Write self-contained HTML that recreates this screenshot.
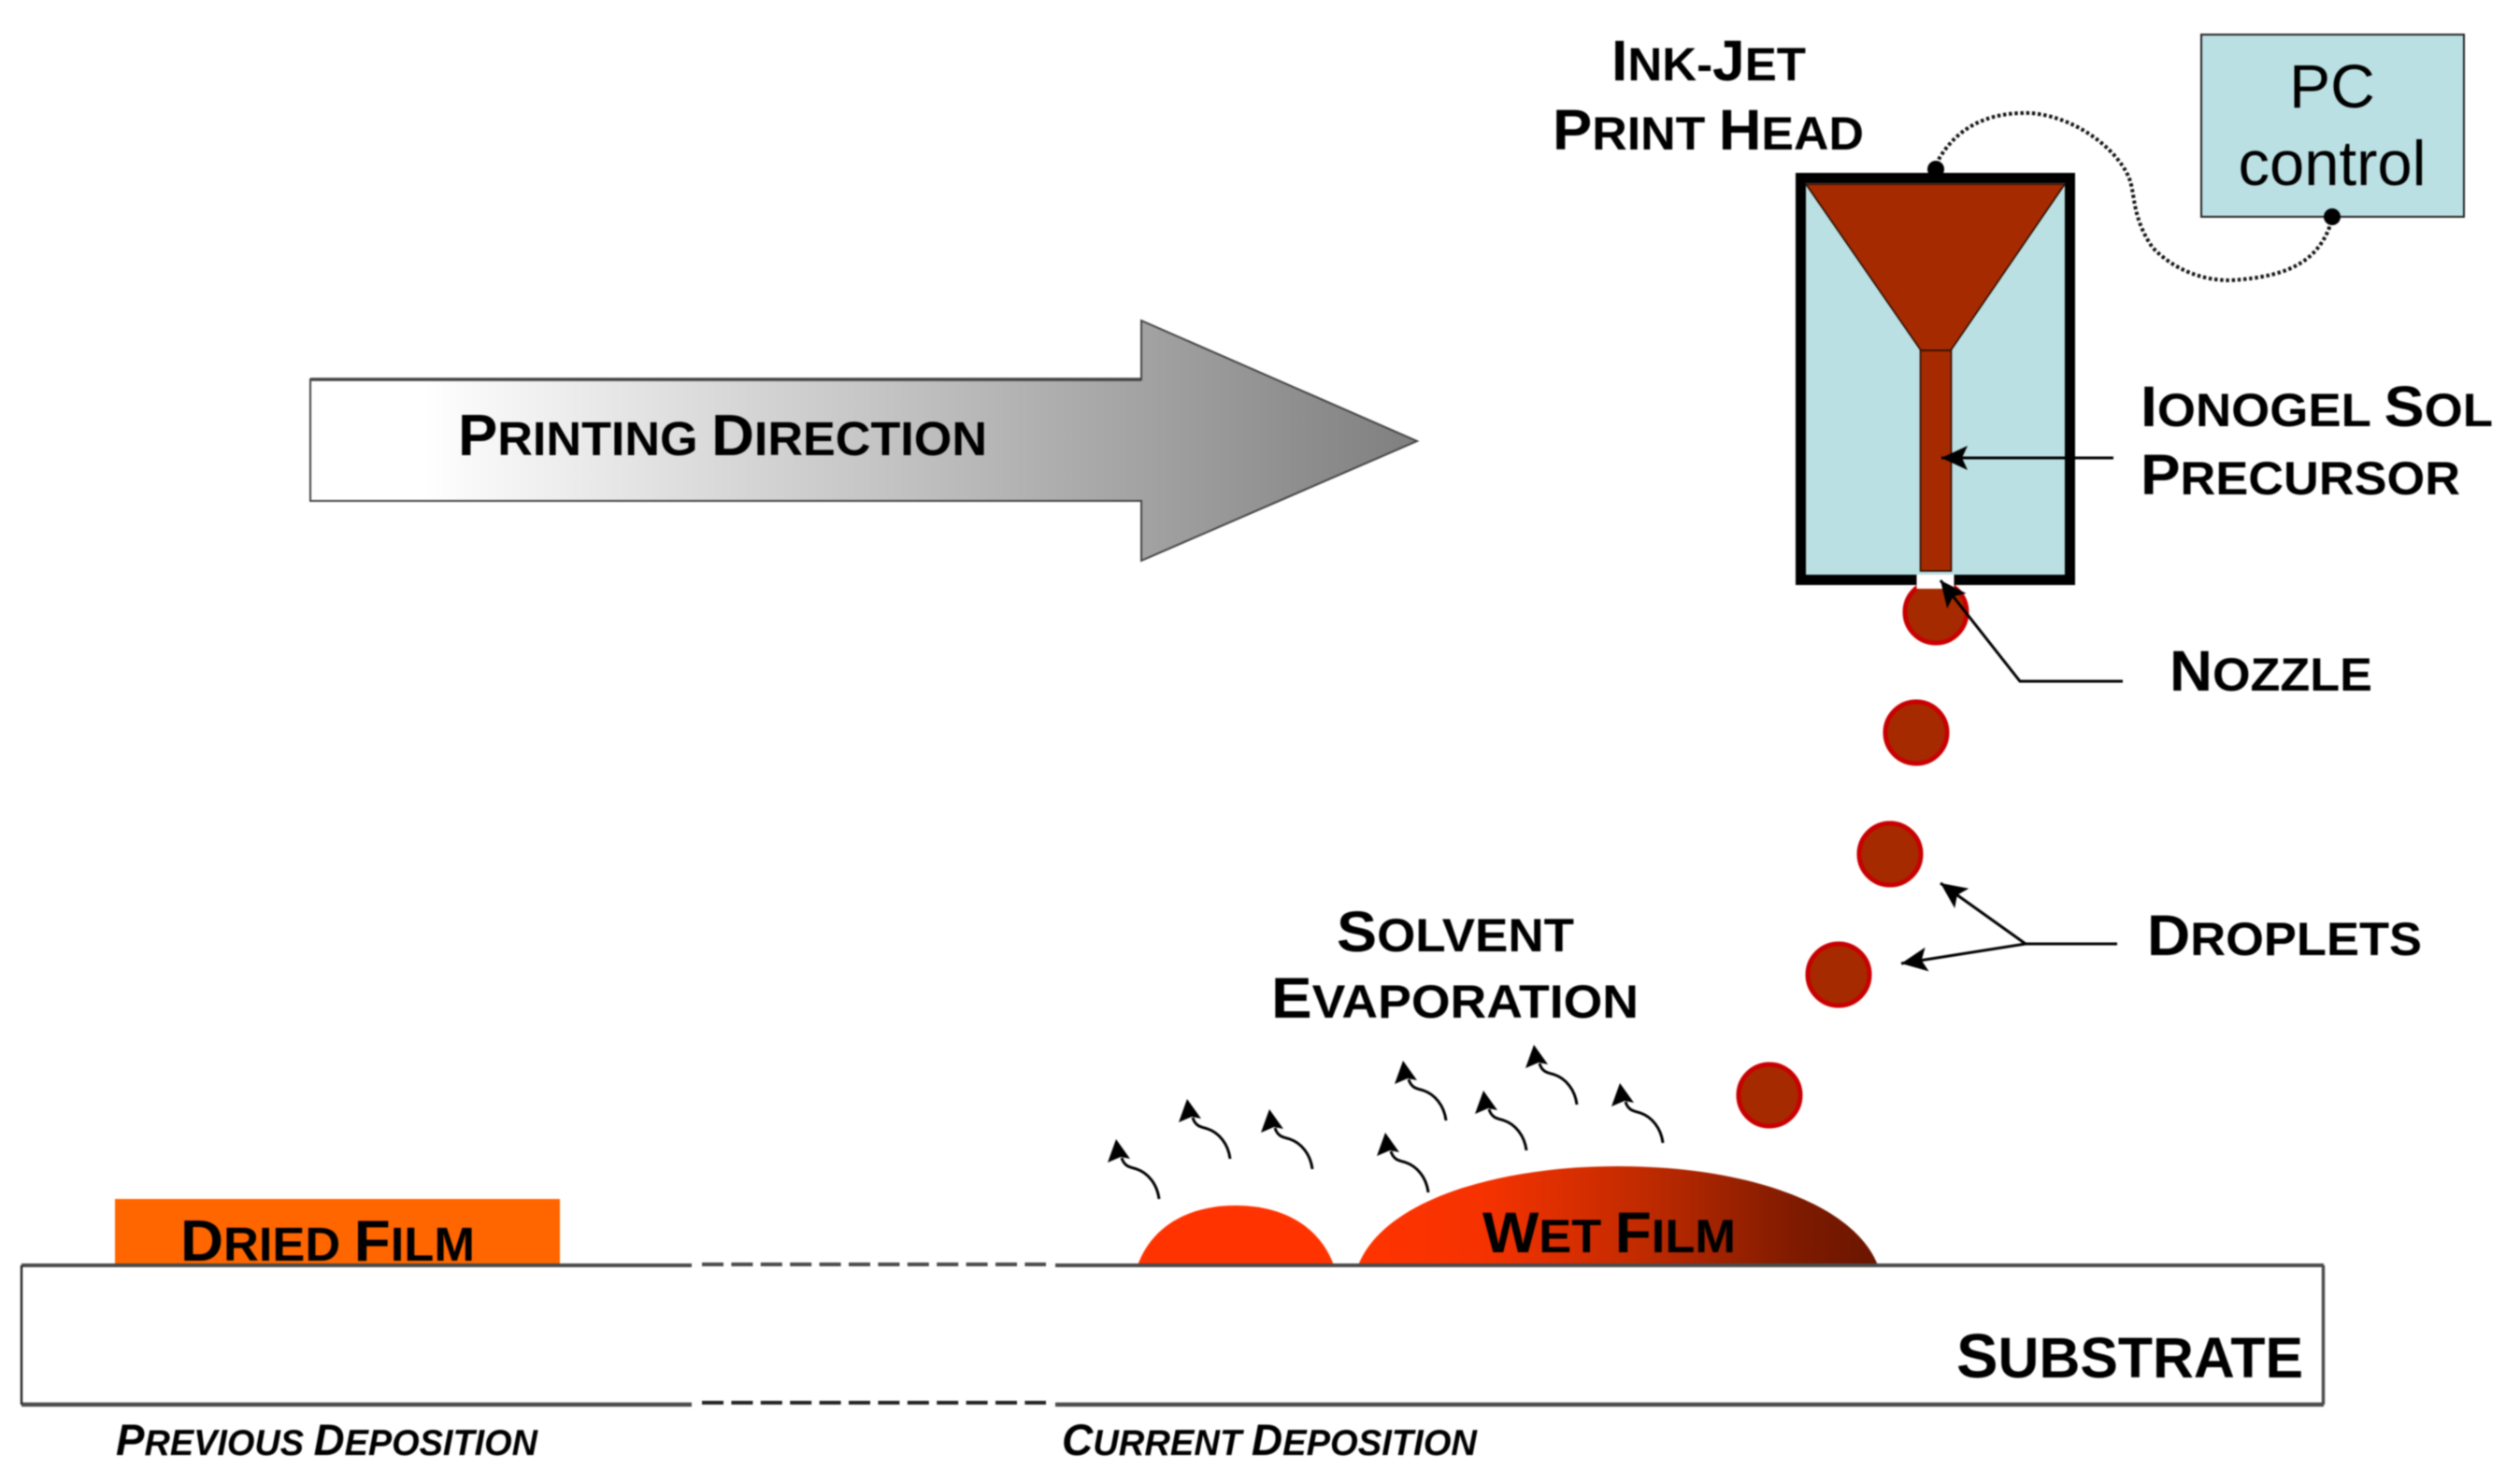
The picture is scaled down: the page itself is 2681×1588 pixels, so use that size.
<!DOCTYPE html>
<html>
<head>
<meta charset="utf-8">
<title>Ink-jet printing diagram</title>
<style>
html,body{margin:0;padding:0;background:#fff;width:2681px;height:1588px;overflow:hidden}
svg{display:block;filter:blur(0.9px)}
text{font-family:"Liberation Sans",Arial,sans-serif;fill:#000}
.b{font-weight:bold}
.bi{font-weight:bold;font-style:italic}
</style>
</head>
<body>
<svg xmlns="http://www.w3.org/2000/svg" width="2681" height="1588" viewBox="0 0 2681 1588">
<defs>
<linearGradient id="ga" gradientUnits="userSpaceOnUse" x1="332" y1="0" x2="1516" y2="0">
<stop offset="0" stop-color="#ffffff"/>
<stop offset="0.1" stop-color="#ffffff"/>
<stop offset="1" stop-color="#7f7f7f"/>
</linearGradient>
<linearGradient id="gw" gradientUnits="userSpaceOnUse" x1="1453" y1="0" x2="2009" y2="0">
<stop offset="0" stop-color="#ff3300"/>
<stop offset="0.25" stop-color="#f43200"/>
<stop offset="0.55" stop-color="#c02a00"/>
<stop offset="0.85" stop-color="#7d1a00"/>
<stop offset="1" stop-color="#6b1500"/>
</linearGradient>
<marker id="ah" markerUnits="userSpaceOnUse" markerWidth="32" markerHeight="28" refX="28" refY="13" orient="auto">
<path d="M0,0 L28,13 L0,26 L6,13 Z" fill="#000"/>
</marker>
<g id="ev">
<path d="M6,20 C9,30 16,30 22,32 C34,36 44,48 46,64" fill="none" stroke="#000" stroke-width="3"/>
<path d="M0,0 L15,21 L5,19 L-9,25 Z" fill="#000"/>
</g>
</defs>

<rect width="2681" height="1588" fill="#fff"/>

<!-- big arrow -->
<path d="M332,406 H1221 V343 L1516,472 L1221,600 V536 H332 Z" fill="url(#ga)" stroke="#444" stroke-width="2"/>
<path d="M332,406 H1221" stroke="#444" stroke-width="3.5" fill="none"/>
<text class="b" x="490" y="487" font-size="62" textLength="566" lengthAdjust="spacingAndGlyphs">P<tspan font-size="51">RINTING </tspan>D<tspan font-size="51">IRECTION</tspan></text>

<!-- droplets -->
<g fill="#a52a00" stroke="#c80000" stroke-width="5">
<circle cx="2071" cy="655" r="33"/>
<circle cx="2050" cy="784" r="33"/>
<circle cx="2022" cy="914" r="33"/>
<circle cx="1967" cy="1043" r="33"/>
<circle cx="1893" cy="1172" r="33"/>
</g>

<!-- print head -->
<rect x="1926.5" y="190.5" width="288" height="430" fill="#bbe0e3" stroke="#000" stroke-width="11"/>
<path d="M1932,197 H2209 L2087,375 H2055 Z" fill="#a62a00" stroke="#2a0c00" stroke-width="1.6"/>
<rect x="2054.5" y="375" width="33" height="236" fill="#a62a00" stroke="#2a0c00" stroke-width="1.6"/>
<rect x="2050.5" y="615" width="40" height="15" fill="#fff"/>

<!-- PC box -->
<rect x="2355" y="37" width="281" height="195" fill="#bbe0e3" stroke="#222" stroke-width="2"/>
<text x="2495" y="115" font-size="66" text-anchor="middle" fill="#111">PC</text>
<text x="2495" y="198" font-size="68" text-anchor="middle" textLength="201" lengthAdjust="spacingAndGlyphs" fill="#111">control</text>

<!-- dotted wire -->
<path d="M2071,176 C2095,130 2135,120 2172,121 C2225,125 2270,165 2279,194 C2284,210 2282,235 2303,265 C2325,288 2355,300 2386,300 C2420,298 2445,292 2462,281 C2480,270 2492,250 2495,232" fill="none" stroke="#111" stroke-width="4" stroke-dasharray="3.4 2.8"/>
<circle cx="2071" cy="181" r="9" fill="#000"/>
<circle cx="2495" cy="232" r="9" fill="#000"/>

<!-- labels -->
<text class="b" x="1724" y="86" font-size="61" textLength="208" lengthAdjust="spacingAndGlyphs">I<tspan font-size="50">NK-</tspan>J<tspan font-size="50">ET</tspan></text>
<text class="b" x="1661" y="160" font-size="61" textLength="333" lengthAdjust="spacingAndGlyphs">P<tspan font-size="50">RINT </tspan>H<tspan font-size="50">EAD</tspan></text>
<text class="b" x="2290" y="456" font-size="61" textLength="377" lengthAdjust="spacingAndGlyphs">I<tspan font-size="50">ONOGEL </tspan>S<tspan font-size="50">OL</tspan></text>
<text class="b" x="2290" y="529" font-size="61" textLength="342" lengthAdjust="spacingAndGlyphs">P<tspan font-size="50">RECURSOR</tspan></text>
<text class="b" x="2321" y="739" font-size="61" textLength="217" lengthAdjust="spacingAndGlyphs">N<tspan font-size="50">OZZLE</tspan></text>
<text class="b" x="2297" y="1022" font-size="61" textLength="294" lengthAdjust="spacingAndGlyphs">D<tspan font-size="50">ROPLETS</tspan></text>
<text class="b" x="1430" y="1018" font-size="61" textLength="254" lengthAdjust="spacingAndGlyphs">S<tspan font-size="50">OLVENT</tspan></text>
<text class="b" x="1360" y="1089" font-size="61" textLength="393" lengthAdjust="spacingAndGlyphs">E<tspan font-size="50">VAPORATION</tspan></text>

<!-- leader arrows -->
<line x1="2261" y1="490" x2="2077" y2="490" stroke="#000" stroke-width="3" marker-end="url(#ah)"/>
<path d="M2271,729 H2161 L2076,621" fill="none" stroke="#000" stroke-width="3" marker-end="url(#ah)"/>
<line x1="2265" y1="1010" x2="2167" y2="1010" stroke="#000" stroke-width="3"/>
<line x1="2167" y1="1010" x2="2076" y2="945" stroke="#000" stroke-width="3" marker-end="url(#ah)"/>
<line x1="2167" y1="1010" x2="2034" y2="1031" stroke="#000" stroke-width="3" marker-end="url(#ah)"/>

<!-- evaporation arrows -->
<use href="#ev" x="1194" y="1219"/>
<use href="#ev" x="1270" y="1176"/>
<use href="#ev" x="1358" y="1187"/>
<use href="#ev" x="1482" y="1212"/>
<use href="#ev" x="1501" y="1135"/>
<use href="#ev" x="1587" y="1167"/>
<use href="#ev" x="1641" y="1118"/>
<use href="#ev" x="1733" y="1159"/>

<!-- films -->
<rect x="123" y="1283" width="476" height="71" fill="#ff6600"/>
<path d="M1217,1354 C1232,1313 1270,1290 1322,1290 C1374,1290 1412,1313 1427,1354 Z" fill="#ff3300"/>
<path d="M1453,1354 C1480,1285 1600,1248 1731,1248 C1862,1248 1982,1285 2009,1354 Z" fill="url(#gw)"/>
<text class="b" x="193" y="1349" font-size="62" textLength="315" lengthAdjust="spacingAndGlyphs">D<tspan font-size="51">RIED </tspan>F<tspan font-size="51">ILM</tspan></text>
<text class="b" x="1586" y="1340" font-size="61" textLength="271" lengthAdjust="spacingAndGlyphs">W<tspan font-size="50">ET </tspan>F<tspan font-size="50">ILM</tspan></text>

<!-- substrate -->
<g fill="none" stroke="#4a4a4a">
<path d="M23,1354 H740 M1129,1354 H2486" stroke-width="4"/>
<path d="M751,1353 H1119" stroke-width="4" stroke-dasharray="23 8.4"/>
<path d="M23,1503 H740 M1129,1503 H2486" stroke-width="4.5"/>
<path d="M751,1501 H1119" stroke="#222" stroke-width="4" stroke-dasharray="23 8.4"/>
<path d="M23,1354 V1503" stroke="#222" stroke-width="2.4"/>
<path d="M2485.5,1354 V1503" stroke-width="3.4"/>
</g>
<text class="b" x="2093" y="1474" font-size="67" textLength="371" lengthAdjust="spacingAndGlyphs">S<tspan font-size="61">UBSTRATE</tspan></text>
<text class="bi" x="124" y="1557" font-size="47" textLength="451" lengthAdjust="spacingAndGlyphs">P<tspan font-size="39">REVIOUS </tspan>D<tspan font-size="39">EPOSITION</tspan></text>
<text class="bi" x="1136" y="1557" font-size="47" textLength="444" lengthAdjust="spacingAndGlyphs">C<tspan font-size="39">URRENT </tspan>D<tspan font-size="39">EPOSITION</tspan></text>
</svg>
</body>
</html>
